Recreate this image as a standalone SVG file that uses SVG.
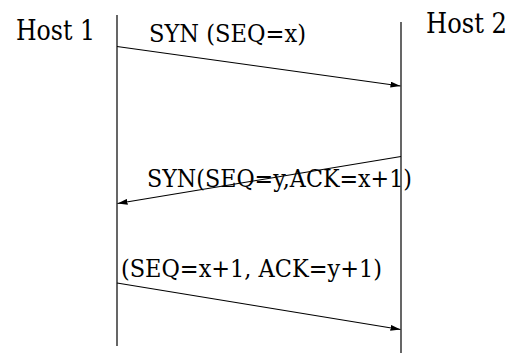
<svg xmlns="http://www.w3.org/2000/svg" width="510" height="353" viewBox="0 0 510 353">
<style>
text{font-family:'DejaVu Serif','Liberation Serif',serif;fill:#000}
.h{font-size:28px}
.m{font-size:24px}
.l{stroke:#000;stroke-width:1.2;fill:none}
</style>
<defs>
<marker id="ah" viewBox="0 0 10 6" refX="10" refY="3" markerWidth="10" markerHeight="6" markerUnits="userSpaceOnUse" orient="auto">
<path d="M0,0 L10,3 L0,6 Z" fill="#000"/>
</marker>
</defs>
<rect width="510" height="353" fill="#fff"/>
<g id="host1">
<text class="h" x="16" y="40" textLength="79" lengthAdjust="spacingAndGlyphs">Host 1</text>
<line class="l" x1="117" y1="15" x2="117" y2="346"/>
</g>
<g id="host2">
<text class="h" x="426" y="33" textLength="81" lengthAdjust="spacingAndGlyphs">Host 2</text>
<line class="l" x1="401" y1="22" x2="401" y2="353"/>
</g>
<g id="connectors">
<line class="l" x1="117" y1="46.5" x2="400.5" y2="86" marker-end="url(#ah)"/>
<line class="l" x1="401" y1="156.5" x2="117.5" y2="203.5" marker-end="url(#ah)"/>
<line class="l" x1="117" y1="283" x2="400.5" y2="329.5" marker-end="url(#ah)"/>
</g>
<g id="labels">
<text class="m" x="149" y="41.5" textLength="157" lengthAdjust="spacingAndGlyphs">SYN (SEQ=x)</text>
<text class="m" x="147" y="187" textLength="265" lengthAdjust="spacingAndGlyphs">SYN(SEQ=y,ACK=x+1)</text>
<text class="m" x="121" y="276.5" textLength="261" lengthAdjust="spacingAndGlyphs">(SEQ=x+1, ACK=y+1)</text>
</g>
</svg>
